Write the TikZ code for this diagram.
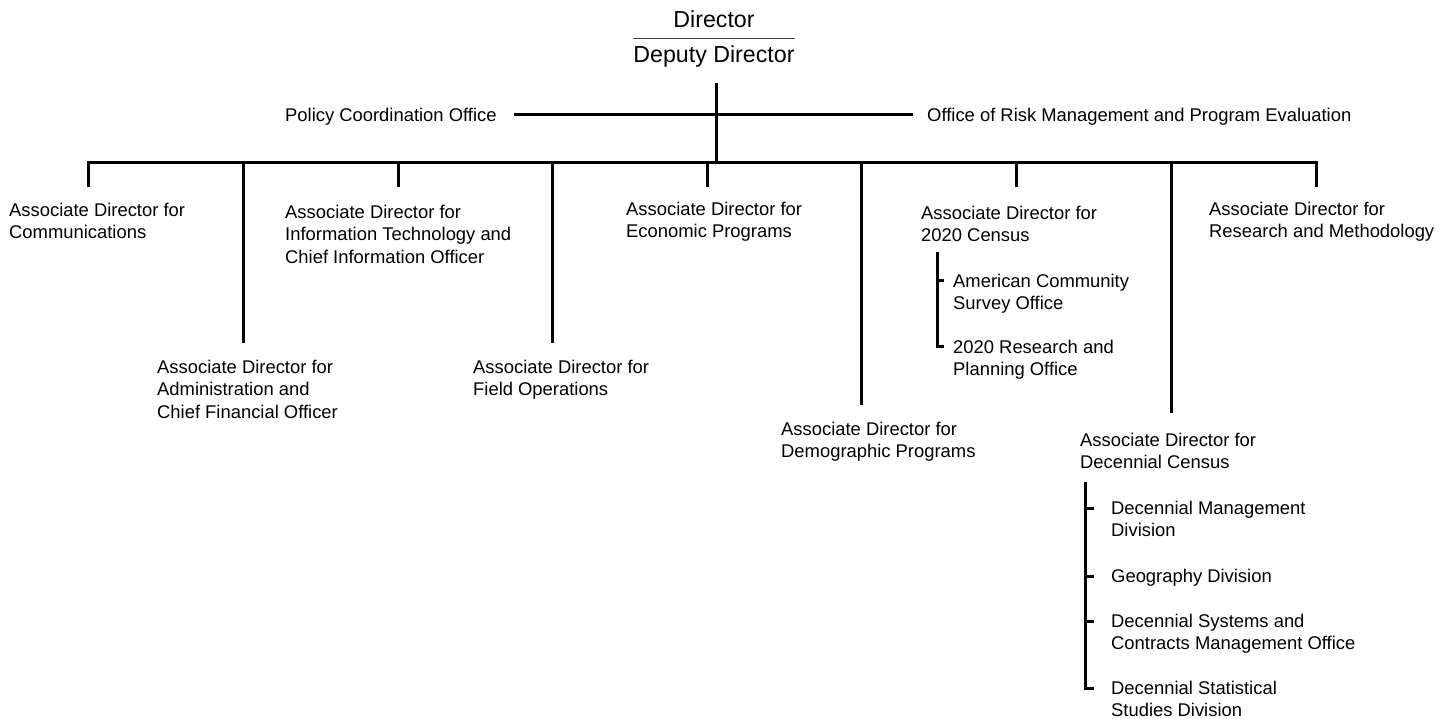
\documentclass[tikz,border=0pt]{standalone}
\usepackage{fontspec}
\setmainfont{Liberation Sans}
\begin{document}
\begin{tikzpicture}[x=1pt,y=-1pt,
  lbl/.style={anchor=north west, inner sep=0pt, align=left, font=\fontsize{18.4}{22.3}\selectfont},
  head/.style={anchor=base, inner sep=0pt, font=\fontsize{23.2}{27}\selectfont},
  link/.style={line width=3pt, line cap=butt, line join=miter},
  sepline/.style={line width=1.3pt, draw=black!75}]
\useasboundingbox (0,0) rectangle (1452,719);

% head
\node[head] (dir) at (714,28) {Director};
\node[head] (dep) at (714,63) {Deputy Director};
\coordinate (sep) at (714,38.5);
\draw[sepline] (dep.west |- sep) -- (dep.east |- sep);

% staff offices
\node[lbl] (pco) at (285,108) {Policy Coordination Office};
\node[lbl] (orm) at (927,108) {Office of Risk Management and Program Evaluation};

% associate directors
\node[lbl] (com) at (9,203)   {Associate Director for\\Communications};
\node[lbl] (adm) at (157,360) {Associate Director for\\Administration and\\Chief Financial Officer};
\node[lbl] (it)  at (285,205) {Associate Director for\\Information Technology and\\Chief Information Officer};
\node[lbl] (fld) at (473,360) {Associate Director for\\Field Operations};
\node[lbl] (eco) at (626,202) {Associate Director for\\Economic Programs};
\node[lbl] (dem) at (781,422) {Associate Director for\\Demographic Programs};
\node[lbl] (cen) at (921,206) {Associate Director for\\2020 Census};
\node[lbl] (rm)  at (1209,202) {Associate Director for\\Research and Methodology};
\node[lbl] (dec) at (1080,433) {Associate Director for\\Decennial Census};

% sub-offices
\node[lbl] (acs) at (953,274) {American Community\\Survey Office};
\node[lbl] (rp)  at (953,340) {2020 Research and\\Planning Office};
\node[lbl] (dmd) at (1111,501) {Decennial Management\\Division};
\node[lbl] (geo) at (1111,569) {Geography Division};
\node[lbl] (dsc) at (1111,614) {Decennial Systems and\\Contracts Management Office};
\node[lbl] (dss) at (1111,681) {Decennial Statistical\\Studies Division};

% trunk
\coordinate (top) at (716,83);
\coordinate (mid) at (716,115);
\coordinate (bus) at (716,163);
\draw[link] (top) -- (bus);
\draw[link] ([xshift=17pt]pco.east |- mid) -- ([xshift=-14pt]orm.west |- mid);

% bus and drops
\coordinate (b1) at (88,163);
\coordinate (b2) at (243,163);
\coordinate (b3) at (398,163);
\coordinate (b4) at (552,163);
\coordinate (b5) at (707,163);
\coordinate (b6) at (861,163);
\coordinate (b7) at (1016,163);
\coordinate (b8) at (1171,163);
\coordinate (b9) at (1316,163);
\coordinate (e1) at (88,187);
\coordinate (e2) at (243,343);
\coordinate (e3) at (398,187);
\coordinate (e4) at (552,343);
\coordinate (e5) at (707,187);
\coordinate (e6) at (861,405);
\coordinate (e7) at (1016,187);
\coordinate (e8) at (1171,413);
\coordinate (e9) at (1316,187);
\draw[link] (e1) -- (b1) -- (b9) -- (e9);
\foreach \i in {2,...,8} { \draw[link] (b\i) -- (e\i); }

% 2020 census bracket
\coordinate (c0) at (937,252);
\foreach \n in {acs,rp} {
  \coordinate (\n t) at ([xshift=-9pt,yshift=-7pt]\n.north west);
}
\draw[link] (c0) |- (rpt);
\draw[link] (c0 |- acst) -- (acst);

% decennial bracket
\coordinate (d0) at (1085,482);
\foreach \n in {dmd,geo,dsc,dss} {
  \coordinate (\n t) at ([xshift=-17pt,yshift=-7pt]\n.north west);
}
\draw[link] (d0) |- (dsst);
\foreach \n in {dmd,geo,dsc} {
  \draw[link] (d0 |- \n t) -- (\n t);
}
\end{tikzpicture}
\end{document}
